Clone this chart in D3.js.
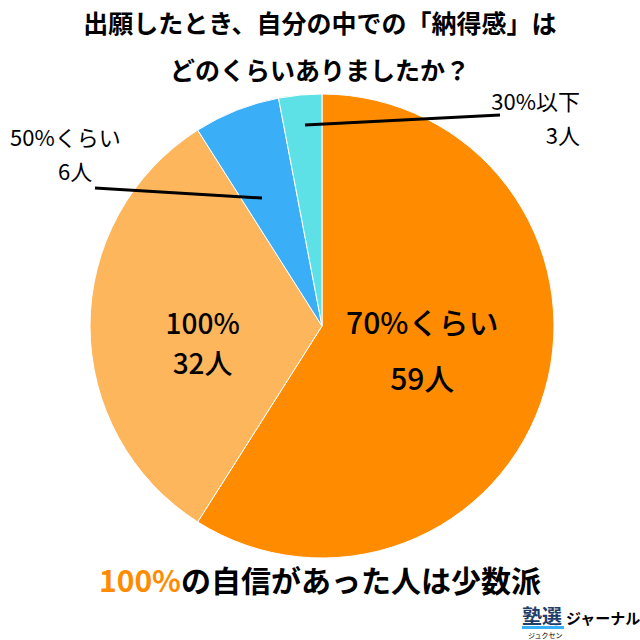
<!DOCTYPE html>
<html><head><meta charset="utf-8">
<script src="https://cdn.jsdelivr.net/npm/d3@7/dist/d3.min.js"></script>
<style>body{margin:0;background:#fff}text{font-family:"Noto Sans CJK JP","Noto Sans",sans-serif}</style>
</head><body>
<script>
var categories = ['70%くらい', '100%', '50%くらい', '30%以下'];
var counts = [59, 32, 6, 3];
var colors = ['#FF8C00', '#FDB65B', '#3BAEF8', '#5EE1E6'];

var svg = d3.select('body').append('svg').attr('width', 640).attr('height', 640),
    cx = 322, cy = 326, r = 232;

svg.append('text').attr('x', 320).attr('y', 33).attr('text-anchor', 'middle')
   .attr('font-size', 25).attr('font-weight', 700).text('出願したとき、自分の中での「納得感」は');
svg.append('text').attr('x', 320).attr('y', 80).attr('text-anchor', 'middle')
   .attr('font-size', 25).attr('font-weight', 700).text('どのくらいありましたか？');

var pie = d3.pie().sort(null)(counts),
    arc = d3.arc().innerRadius(0).outerRadius(r);
var g = svg.append('g').attr('transform', 'translate(' + cx + ',' + cy + ')');
g.selectAll('path').data(pie).enter().append('path')
 .attr('d', arc).attr('fill', function(d, i){ return colors[i]; })
 .attr('stroke', '#fff').attr('stroke-width', 1);

// inside labels
var inner = d3.arc().innerRadius(r * 0.45).outerRadius(r * 0.45);
[0, 1].forEach(function(i){
  var c = inner.centroid(pie[i]);
  var t = g.append('text').attr('text-anchor', 'middle').attr('font-size', i === 0 ? 30 : 28).attr('font-weight', 500);
  t.append('tspan').attr('x', c[0] + (i === 0 ? 0 : -15)).attr('y', 8).text(categories[i]);
  t.append('tspan').attr('x', c[0] + (i === 0 ? 0 : -15)).attr('y', i === 0 ? 64 : 48).text(counts[i] + '人');
});

// outside labels with leader lines
g.append('line').attr('x1', -17).attr('y1', -201).attr('x2', 178).attr('y2', -211)
 .attr('stroke', '#000').attr('stroke-width', 3);
svg.append('text').attr('x', 580).attr('y', 110).attr('text-anchor', 'end').attr('font-size', 22).text(categories[3]);
svg.append('text').attr('x', 580).attr('y', 144).attr('text-anchor', 'end').attr('font-size', 22).text(counts[3] + '人');

g.append('line').attr('x1', -60).attr('y1', -128).attr('x2', -227).attr('y2', -138)
 .attr('stroke', '#000').attr('stroke-width', 3);
svg.append('text').attr('x', 10).attr('y', 146).attr('font-size', 22).text(categories[2]);
svg.append('text').attr('x', 58).attr('y', 180).attr('font-size', 22).text(counts[2] + '人');

var b = svg.append('text').attr('x', 320).attr('y', 592).attr('text-anchor', 'middle').attr('font-size', 30).attr('font-weight', 700);
b.append('tspan').attr('fill', '#FF8C00').text('100%');
b.append('tspan').text('の自信があった人は少数派');

svg.append('text').attr('x', 522).attr('y', 624).attr('font-size', 20).attr('font-weight', 700).attr('fill', '#1F3F6B').text('塾選');
svg.append('rect').attr('x', 522).attr('y', 626).attr('width', 42).attr('height', 3).attr('fill', '#3BAEF8');
svg.append('text').attr('x', 528).attr('y', 638).attr('font-size', 7).text('ジュクセン');
svg.append('text').attr('x', 566).attr('y', 624).attr('font-size', 15).attr('font-weight', 700).text('ジャーナル');
</script>
</body></html>
